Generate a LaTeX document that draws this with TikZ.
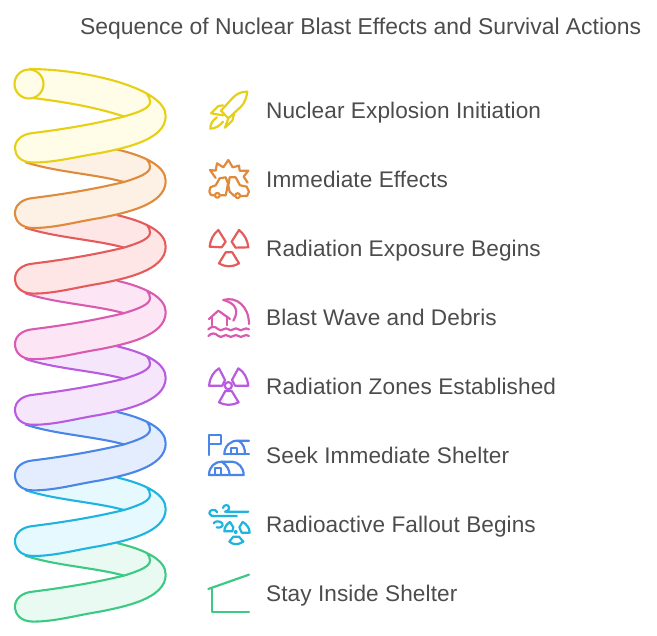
\documentclass[tikz,border=0pt]{standalone}
\usepackage{fontspec}
\setmainfont{Liberation Sans}
\newfontfamily\labfont[LetterSpace=0.4]{Liberation Sans}
\definecolor{s1}{HTML}{E6CF15}\definecolor{f1}{HTML}{FFFDE8}
\definecolor{s2}{HTML}{E08A3C}\definecolor{f2}{HTML}{FDF1E6}
\definecolor{s3}{HTML}{E55B5B}\definecolor{f3}{HTML}{FFE6E6}
\definecolor{s4}{HTML}{D95BB0}\definecolor{f4}{HTML}{FCE6F5}
\definecolor{s5}{HTML}{B95BDE}\definecolor{f5}{HTML}{F5E6FC}
\definecolor{s6}{HTML}{4A86E8}\definecolor{f6}{HTML}{E3EDFD}
\definecolor{s7}{HTML}{1FB4E0}\definecolor{f7}{HTML}{E5F9FF}
\definecolor{s8}{HTML}{3CC984}\definecolor{f8}{HTML}{E9FAF2}
\definecolor{txt}{HTML}{4C4C4C}
\tikzset{
  coil/.style={line width=2.1pt,line join=round},
  lab/.style={anchor=base west,inner sep=0pt,text=txt,font=\labfont\fontsize{22.6}{26}\selectfont},
  ttl/.style={anchor=base west,inner sep=0pt,text=txt,font=\fontsize{22.9}{26}\selectfont},
  ico/.style={line width=2.2pt,line join=round,line cap=round},
  zoomed/.style={x=0.3333pt,y=-0.3333pt}
}
\begin{document}
\begin{tikzpicture}[x=1pt,y=-1pt]
\useasboundingbox (0,0) rectangle (657,636);
\foreach \k/\n in {7/8,6/7,5/6,4/5,3/4,2/3,1/2}{
  \begin{scope}[yshift={-(\k-1)*65.6pt},coil]
    \path[fill=f\n] (25,162) .. controls (60,148) and (90,148) .. (117,149.5)
      .. controls (145,156) and (165.7,166) .. (165.7,181)
      .. controls (165.7,205) and (125,213) .. (100,218)
      .. controls (75,222) and (55,228) .. (33,228)
      .. controls (20,228) and (15,220) .. (15,213)
      .. controls (15,205) and (22,199) .. (33,198)
      .. controls (65,194) and (95,189) .. (124,182) -- cycle;
    \draw[draw=s\n] (25,162) .. controls (55,172) and (95,174) .. (124,182);
    \draw[draw=s\n] (117,149.5) .. controls (145,156) and (165.7,166) .. (165.7,181)
      .. controls (165.7,205) and (125,213) .. (100,218)
      .. controls (75,222) and (55,228) .. (33,228)
      .. controls (20,228) and (15,220) .. (15,213)
      .. controls (15,205) and (22,199) .. (33,198)
      .. controls (65,194) and (95,189) .. (124,182)
      .. controls (140,177) and (150,173) .. (150,167)
      .. controls (150,164) and (149,162) .. (147,159.5);
  \end{scope}
}
\begin{scope}[coil]
  \path[fill=f1] (29,69) .. controls (85,69) and (165.7,88) .. (165.7,116)
    .. controls (165.7,140) and (125,148) .. (100,153)
    .. controls (75,157) and (55,162.5) .. (33,162.5)
    .. controls (20,162.5) and (15,155) .. (15,148)
    .. controls (15,140) and (22,134) .. (33,133)
    .. controls (65,129) and (95,124) .. (124,116.5)
    .. controls (95,107) and (60,102) .. (29,98.5) -- cycle;
  \draw[draw=s1] (29,69) .. controls (85,69) and (165.7,88) .. (165.7,116)
    .. controls (165.7,140) and (125,148) .. (100,153)
    .. controls (75,157) and (55,162.5) .. (33,162.5)
    .. controls (20,162.5) and (15,155) .. (15,148)
    .. controls (15,140) and (22,134) .. (33,133)
    .. controls (65,129) and (95,124) .. (124,116.5)
    .. controls (140,112) and (150,108) .. (150,102)
    .. controls (150,99) and (149,96.5) .. (147,94);
  \draw[draw=s1] (33,98) .. controls (65,102) and (95,107) .. (124,116.5);
  \draw[draw=s1,fill=f1] (29,84) circle (14.5);
\end{scope}
\begin{scope}[shift={(195,80)},zoomed,ico]
  \draw[s1] (157,35) .. controls (140,35) and (125,40) .. (112,55) -- (78,92) -- (100,115) -- (138,80) .. controls (150,68) and (155,50) .. cycle;
  \draw[s1] (84,76) -- (70,78) -- (48,100) -- (84,106);
  \draw[s1] (100,115) -- (90,143) -- (112,122) -- (118,98);
  \draw[s1] (66,112) .. controls (50,122) and (46,135) .. (46,146) .. controls (60,146) and (74,138) .. (84,125);
  \draw[s2] (62,294) -- (45,270) -- (62,272) -- (66,250) -- (85,262) -- (100,240) -- (113,262) -- (132,257) -- (134,272) -- (160,272) -- (146,290) -- (158,308);
  \draw[s2] (58,346) .. controls (48,347) and (43,342) .. (43,335) -- (46,322) -- (62,316) -- (74,295) -- (92,292) -- (99,310) -- (95,332) -- (92,346) -- (77,346);
  \draw[s2] (67,346) circle (2.4pt);
  \draw[s2] (118,348) -- (104,335) -- (100,318) -- (104,292) -- (122,292) -- (135,316) -- (155,320) -- (162,335) -- (156,348) -- (138,348);
  \draw[s2] (128,347) circle (2.4pt);
\end{scope}
\begin{scope}[shift={(195,220)},zoomed,ico]
  \draw[s3] (44,80) .. controls (46,60) and (55,42) .. (70,30) -- (92,65) -- (80,82) -- cycle;
  \draw[s3] (132,30) .. controls (147,42) and (158,60) .. (160,82) -- (122,83) -- (110,65) -- cycle;
  \draw[s3] (92,97) -- (112,97) -- (132,130) .. controls (112,142) and (92,142) .. (72,130) -- cycle;
  \draw[s4] (85,240) .. controls (125,228) and (162,260) .. (162,312);
  \draw[s4] (85,240) .. controls (125,250) and (132,275) .. (115,302);
  \draw[s4] (42,297) -- (70,272) -- (105,297);
  \draw[s4] (50,290) -- (50,316) (97,290) -- (97,316);
  \draw[s4] (40,328) .. controls (50,318) and (60,318) .. (70,328) .. controls (80,338) and (90,318) .. (100,328) .. controls (110,338) and (120,318) .. (130,328) .. controls (140,338) and (150,318) .. (162,328);
  \draw[s4] (40,348) .. controls (50,338) and (60,338) .. (70,348) .. controls (80,358) and (90,338) .. (100,348) .. controls (110,358) and (120,338) .. (130,348) .. controls (140,358) and (150,338) .. (162,348);
\end{scope}
\begin{scope}[shift={(195,355)},zoomed,ico]
  \draw[s5] (100,92) circle (3.6pt);
  \draw[s5] (42,92) .. controls (44,70) and (55,50) .. (72,40) -- (90,75) -- (82,92) -- cycle;
  \draw[s5] (130,40) .. controls (147,50) and (158,70) .. (160,92) -- (120,92) -- (111,75) -- cycle;
  \draw[s5] (91,108) -- (110,108) -- (131,142) .. controls (112,152) and (90,152) .. (72,142) -- cycle;
  \draw[s6] (42,300) -- (42,240) -- (78,240) -- (78,268) -- (42,268);
  \draw[s6] (88,298) .. controls (88,272) and (108,256) .. (130,257) -- (162,257);
  \draw[s6] (88,298) -- (162,298);
  \draw[s6] (130,257) .. controls (145,265) and (150,280) .. (150,298);
  \draw[s6] (108,298) -- (108,280) -- (125,280) -- (125,298);
  \draw[s6] (42,360) .. controls (42,335) and (60,320) .. (80,320) -- (110,320) .. controls (130,320) and (146,338) .. (146,360) -- cycle;
  \draw[s6] (80,320) .. controls (95,330) and (104,345) .. (104,360);
  \draw[s6] (60,360) -- (60,340) -- (78,340) -- (78,360);
\end{scope}
\begin{scope}[shift={(195,490)},zoomed,ico]
  \draw[s7] (84,54) .. controls (84,44) and (102,42) .. (102,52) .. controls (102,62) and (95,65) .. (90,65) -- (160,65);
  \draw[s7] (66,66) .. controls (62,56) and (42,58) .. (43,70) .. controls (44,78) and (52,78) .. (60,78) -- (125,78);
  \draw[s7] (56,100) .. controls (60,92) and (75,92) .. (82,100) .. controls (86,110) and (75,115) .. (65,112);
  \draw[s7] (105,96) .. controls (95,102) and (88,112) .. (88,124) -- (112,124) -- (115,112) -- cycle;
  \draw[s7] (143,96) .. controls (155,102) and (164,115) .. (164,128) -- (140,128) -- (133,112) -- cycle;
  \draw[s7] (115,140) -- (132,140) -- (145,155) .. controls (130,165) and (115,165) .. (103,155) -- cycle;
  \fill[s7] (122,126) circle (2pt);
  \draw[s8] (40,297) -- (162,254);
  \draw[s8] (50,297) -- (50,365) -- (162,365);
\end{scope}
\node[ttl] (title) at (80,35) {Sequence of Nuclear Blast Effects and Survival Actions};
\node[lab] (l1) at (266,118.5) {Nuclear Explosion Initiation};
\node[lab] (l2) at (266,187.5) {Immediate Effects};
\node[lab] (l3) at (266,256.5) {Radiation Exposure Begins};
\node[lab] (l4) at (266,325.5) {Blast Wave and Debris};
\node[lab] (l5) at (266,394.5) {Radiation Zones Established};
\node[lab] (l6) at (266,463.5) {Seek Immediate Shelter};
\node[lab] (l7) at (266,532.5) {Radioactive Fallout Begins};
\node[lab] (l8) at (266,601.5) {Stay Inside Shelter};
\end{tikzpicture}
\end{document}
